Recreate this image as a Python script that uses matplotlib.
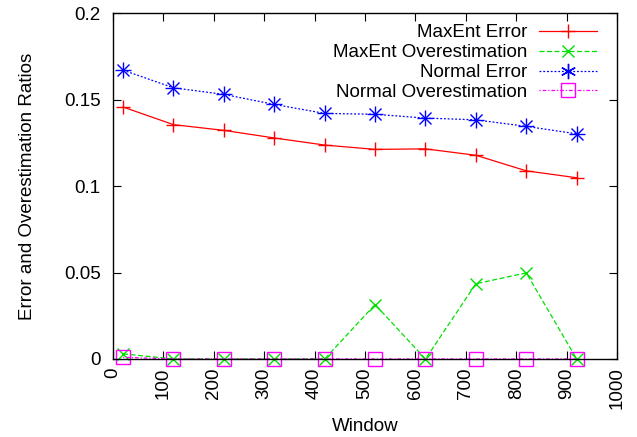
import matplotlib
matplotlib.use("Agg")
import matplotlib.pyplot as plt
from matplotlib.lines import Line2D

plt.rcParams["font.family"] = ["Liberation Sans", "DejaVu Sans"]
plt.rcParams["font.size"] = 13.5

window = [20, 120, 220, 320, 420, 520, 620, 720, 820, 920]
maxent_err = [0.1457, 0.1355, 0.1322, 0.1278, 0.1237, 0.1212, 0.1215, 0.1178, 0.1088, 0.1048]
maxent_over = [0.003, 0.0, 0.0, 0.0, 0.0, 0.0315, 0.0, 0.0435, 0.0498, 0.0]
normal_err = [0.1670, 0.1568, 0.1530, 0.1472, 0.1420, 0.1415, 0.1393, 0.1383, 0.1345, 0.1302]
normal_over = [0.001, 0.0, 0.0, 0.0, 0.0, 0.0, 0.0, 0.0, 0.0, 0.0]

RED = "#ff0000"; GREEN = "#00e000"; BLUE = "#0000ff"; MAGENTA = "#ff00ff"
DASH = (0, (4, 2)); DOT = (0, (1.5, 1.5)); DASHDOT = (0, (1, 1.5, 3, 1.5))

fig = plt.figure(figsize=(6.37, 4.37), dpi=100)
ax = fig.add_axes([0.1774, 0.1785, 0.7912, 0.7915])

ax.plot(window, maxent_err, color=RED, lw=0.9, marker="+", ms=10, mew=1, clip_on=False)
ax.plot(window, maxent_over, color=GREEN, lw=0.9, ls=DASH, marker="x", ms=9, mew=1, clip_on=False)
# gnuplot star = plus + cross
ax.plot(window, normal_err, color=BLUE, lw=0.9, ls=DOT, marker="+", ms=11, mew=1, clip_on=False)
ax.plot(window, normal_err, ls="none", color=BLUE, marker="x", ms=9, mew=1, clip_on=False)
ax.plot(window, normal_over, color=MAGENTA, lw=0.9, ls=DASHDOT, marker="s", ms=10,
        mfc="none", mew=1, clip_on=False)

ax.set_xlim(0, 1000)
ax.set_ylim(0, 0.2)
ax.set_xticks(range(0, 1001, 100))
ax.set_xticklabels([str(v) for v in range(0, 1001, 100)], rotation=90)
ax.set_yticks([0, 0.05, 0.1, 0.15, 0.2])
ax.set_yticklabels(["0", "0.05", "0.1", "0.15", "0.2"])
ax.tick_params(direction="in", length=6, width=0.8, top=True, right=True)
ax.tick_params(axis="y", pad=9)
ax.tick_params(axis="x", pad=6)
for s in ax.spines.values():
    s.set_linewidth(1)

ax.set_xlabel("Window", labelpad=6)
ax.set_ylabel("Error and Overestimation Ratios", labelpad=20)

# key: text right-aligned, sample on the right
handles = [
    Line2D([], [], color=RED, lw=0.9, marker="+", ms=10, mew=1),
    Line2D([], [], color=GREEN, lw=0.9, ls=DASH, marker="x", ms=9, mew=1),
    Line2D([], [], color=BLUE, lw=0.9, ls=DOT, marker=(6, 2, 0), ms=11, mew=1),
    Line2D([], [], color=MAGENTA, lw=0.9, ls=DASHDOT, marker="s", ms=10, mfc="none", mew=1),
]
labels = ["MaxEnt Error", "MaxEnt Overestimation", "Normal Error", "Normal Overestimation"]
ax.legend(handles, labels, loc="upper right", bbox_to_anchor=(0.975, 0.99), frameon=False,
          markerfirst=False, handlelength=3.1, handletextpad=0.6, labelspacing=0.15,
          borderaxespad=0.2, borderpad=0.2)

fig.savefig("out.png", dpi=100)
